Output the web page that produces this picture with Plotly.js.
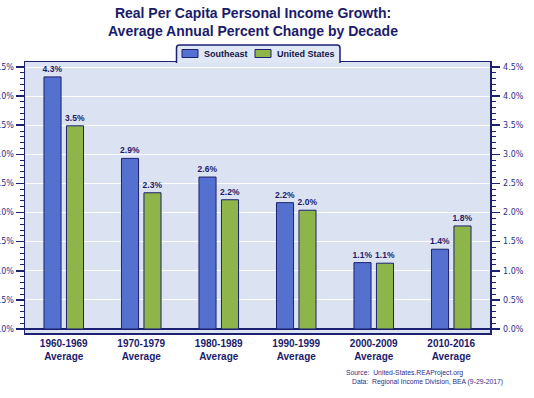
<!DOCTYPE html>
<html>
<head>
<meta charset="utf-8">
<script src="https://cdn.plot.ly/plotly-3.0.1.min.js"></script>
<style>html,body{margin:0;padding:0;background:#fff;}#chart{width:534px;height:398px;}</style>
</head>
<body>
<div id="chart"></div>
<script>
// ---- data ----
const categories = ["1960-1969<br>Average", "1970-1979<br>Average", "1980-1989<br>Average", "1990-1999<br>Average", "2000-2009<br>Average", "2010-2016<br>Average"];
const seriesNames = ["Southeast", "United States"];
const southeast = [4.33, 2.93, 2.61, 2.17, 1.14, 1.37];
const unitedStates = [3.49, 2.34, 2.22, 2.04, 1.13, 1.77];
const yTickValues = [0, 0.5, 1, 1.5, 2, 2.5, 3, 3.5, 4, 4.5];
const yTickLabels = ["0.0%", "0.5%", "1.0%", "1.5%", "2.0%", "2.5%", "3.0%", "3.5%", "4.0%", "4.5%"];
const titleLines = ["Real Per Capita Personal Income Growth:", "Average Annual Percent Change by Decade"];
const sourceLines = ["Source:\u00a0\u00a0United-States.REAProject.org", "Data:\u00a0\u00a0Regional Income Division, BEA (9-29-2017)"];

// ---- styles ----
const NAVY = "#1c2170";
const TEXT = "#1b1b6b";
const colors = ["#5571d0", "#8db54a"];
const W = 534, H = 398;
const M = {l: 25, r: 44, t: 62, b: 65};
const PW = W - M.l - M.r, PH = H - M.t - M.b;
const px = x => (x - M.l) / PW;
const py = y => (H - M.b - y) / PH;

const traces = [southeast, unitedStates].map((vals, i) => ({
  type: "bar",
  name: seriesNames[i],
  x: categories,
  y: vals,
  marker: {color: colors[i], line: {color: NAVY, width: 1}},
  texttemplate: "<b>%{y:.1f}%</b>",
  textposition: "outside",
  constraintext: "none",
  cliponaxis: false,
  textfont: {family: "Liberation Sans, Arial, sans-serif", size: 8.5, color: TEXT},
  hoverinfo: "skip"
}));
// carrier for the mirrored right-hand axis (invisible)
traces.push({
  type: "scatter", mode: "markers", x: categories, y: southeast, yaxis: "y2",
  marker: {opacity: 0}, showlegend: false, hoverinfo: "skip"
});

const yRange = [-0.069, 4.586];
const yCommon = {
  range: yRange,
  tickvals: yTickValues,
  ticktext: yTickLabels,
  ticks: "outside",
  ticklen: 8,
  tickwidth: 1.5,
  tickcolor: NAVY,
  minor: {dtick: 0.1, tick0: 0, ticks: "outside", ticklen: 4, tickwidth: 1, tickcolor: NAVY, showgrid: false},
  tickfont: {family: "DejaVu Sans, Verdana, sans-serif", size: 8, color: "#2e2e88"},
  showline: true,
  linecolor: NAVY,
  linewidth: 1.5,
  fixedrange: true
};

// legend tab (custom, built from series names/colors)
const tabL = 176.5, tabR = 340, tabT = 45, tabB = 63, rad = 3;
const tabPath = `M ${px(tabL)},${py(tabB)} L ${px(tabL)},${py(tabT + rad)} Q ${px(tabL)},${py(tabT)} ${px(tabL + rad)},${py(tabT)} L ${px(tabR - rad)},${py(tabT)} Q ${px(tabR)},${py(tabT)} ${px(tabR)},${py(tabT + rad)} L ${px(tabR)},${py(tabB)}`;
const swatchX = [182, 255];
const labelX = [202, 275];
const shapes = [
  {type: "path", xref: "paper", yref: "paper", path: tabPath, fillcolor: "#dfe6f5", line: {color: NAVY, width: 1.5}, layer: "above"}
];
const annotations = [];
seriesNames.forEach((n, i) => {
  shapes.push({type: "rect", xref: "paper", yref: "paper", x0: px(swatchX[i]), x1: px(swatchX[i] + 16), y0: py(57.5), y1: py(49.5), fillcolor: colors[i], line: {color: NAVY, width: 1}, layer: "above"});
  annotations.push({xref: "paper", yref: "paper", x: px(labelX[i]), y: py(53.5), xanchor: "left", yanchor: "middle", showarrow: false, text: "<b>" + n + "</b>", font: {family: "Liberation Sans, Arial, sans-serif", size: 9, color: "#151545"}});
});
annotations.push({xref: "paper", yref: "paper", x: px(344), y: py(373), xanchor: "left", yanchor: "middle", showarrow: false, text: sourceLines[0], font: {family: "Liberation Sans, Arial, sans-serif", size: 6.8, color: "#2e2e88"}});
annotations.push({xref: "paper", yref: "paper", x: px(350), y: py(381.5), xanchor: "left", yanchor: "middle", showarrow: false, text: sourceLines[1], font: {family: "Liberation Sans, Arial, sans-serif", size: 6.8, color: "#2e2e88"}});

const layout = {
  width: W, height: H,
  margin: M,
  paper_bgcolor: "#ffffff",
  plot_bgcolor: "#dbe3f3",
  showlegend: false,
  barmode: "group",
  bargap: 0.42,
  bargroupgap: 0.24,
  title: {
    text: "<b>" + titleLines.join("<br>") + "</b>",
    font: {family: "Liberation Sans, Arial, sans-serif", size: 14, color: TEXT},
    x: px(253), xref: "paper", xanchor: "center",
    y: 0.955, yref: "container", yanchor: "top"
  },
  xaxis: {
    type: "category",
    showline: true, linecolor: NAVY, linewidth: 1.5, mirror: true,
    ticks: "", showgrid: false,
    tickfont: {family: "Liberation Sans, Arial, sans-serif", size: 10, color: TEXT, weight: "bold"},
    fixedrange: true
  },
  yaxis: Object.assign({}, yCommon, {
    side: "left",
    showgrid: true, gridcolor: "#ffffff", gridwidth: 1,
    zeroline: true, zerolinecolor: NAVY, zerolinewidth: 1.5,
    ticklabelstandoff: 0
  }),
  yaxis2: Object.assign({}, yCommon, {
    overlaying: "y", side: "right", anchor: "x",
    showgrid: false, zeroline: false,
    ticklabelstandoff: 2
  }),
  shapes: shapes,
  annotations: annotations
};

Plotly.newPlot("chart", traces, layout, {staticPlot: true, displayModeBar: false});
</script>
</body>
</html>
